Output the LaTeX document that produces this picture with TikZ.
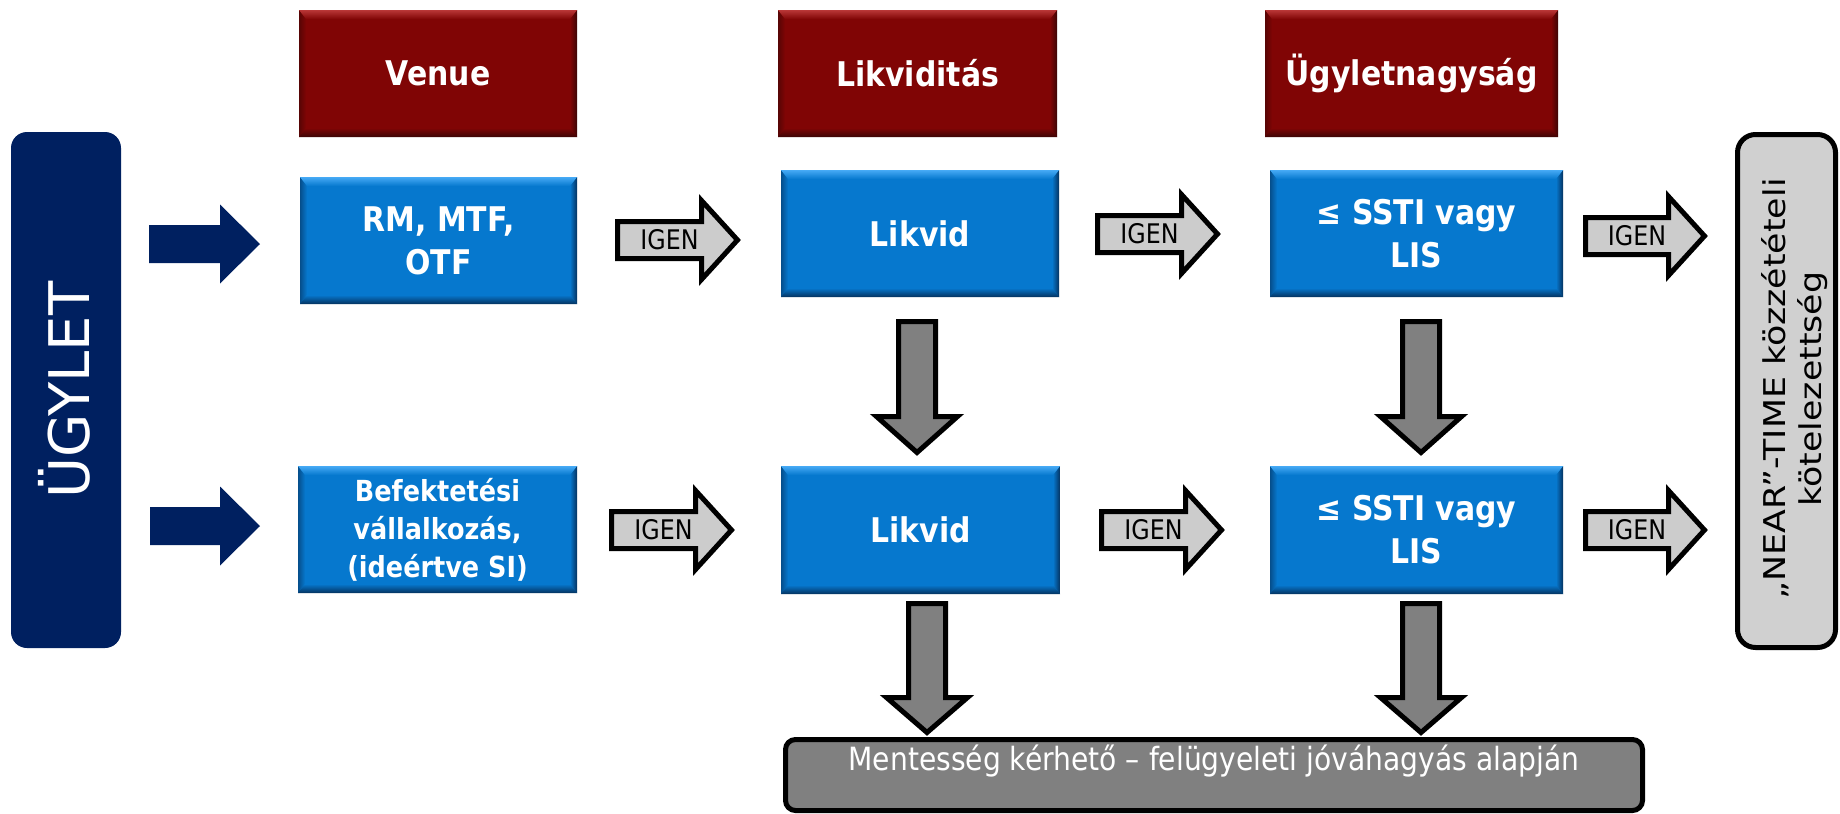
\documentclass[tikz,border=0pt]{standalone}
\usepackage{fontspec}
\setmainfont{DejaVu Sans}[FakeStretch=0.88]
\newfontfamily\widefont{DejaVu Sans}
\newfontfamily\nearfont{DejaVu Sans}[FakeStretch=1.16]
\definecolor{redbase}{RGB}{128,5,5}
\definecolor{redlight}{RGB}{185,55,55}
\definecolor{reddark}{RGB}{60,5,5}
\definecolor{bluebase}{RGB}{6,120,206}
\definecolor{bluelight}{RGB}{70,170,245}
\definecolor{bluedark}{RGB}{5,50,95}
\definecolor{navy}{RGB}{0,32,96}
\definecolor{arrgray}{RGB}{128,128,128}
\definecolor{lgray}{RGB}{208,208,208}
\definecolor{igengray}{RGB}{204,204,204}
% x1 y1 x2 y2 base light dark
\newcommand{\bevelbox}[7]{%
  \fill[#5] (#1,#2) rectangle (#3,#4);
  \shade[left color=#7!60!#5, right color=#5] (#1,#2) -- ({#1+7},{#2+9}) -- ({#1+7},{#4-9}) -- (#1,#4) -- cycle;
  \shade[left color=#5, right color=#7] (#3,#2) -- ({#3-7},{#2+9}) -- ({#3-7},{#4-9}) -- (#3,#4) -- cycle;
  \shade[top color=#6, bottom color=#5] (#1,#2) -- (#3,#2) -- ({#3-7},{#2+9}) -- ({#1+7},{#2+9}) -- cycle;
  \shade[top color=#5, bottom color=#7] (#1,#4) -- (#3,#4) -- ({#3-7},{#4-9}) -- ({#1+7},{#4-9}) -- cycle;
}
% style, tail, tip, cy, shaft half, head half, head len
\newcommand{\myrarrow}[7]{%
  \path[#1] (#2,{#4-#5}) -- ({#3-#7},{#4-#5}) -- ({#3-#7},{#4-#6}) -- (#3,#4) -- ({#3-#7},{#4+#6}) -- ({#3-#7},{#4+#5}) -- (#2,{#4+#5}) -- cycle;}
% style, cx, top, tip, shaft half, head half, head len
\newcommand{\mydarrow}[7]{%
  \path[#1] ({#2-#5},#3) -- ({#2-#5},{#4-#7}) -- ({#2-#6},{#4-#7}) -- (#2,#4) -- ({#2+#6},{#4-#7}) -- ({#2+#5},{#4-#7}) -- ({#2+#5},#3) -- cycle;}
\begin{document}
\begin{tikzpicture}[x=1pt,y=-1pt,
  boxtxt/.style={text=white, font=\bfseries\fontsize{34}{43}\selectfont, align=center, inner sep=0pt},
  smalltxt/.style={text=white, font=\bfseries\fontsize{29}{38}\selectfont, align=center, inner sep=0pt},
  igentxt/.style={text=black, font=\fontsize{27}{32}\selectfont, inner sep=0pt},
  igenarrow/.style={draw=black, line width=5pt, fill=igengray, line join=miter, miter limit=10},
  grayarrow/.style={draw=black, line width=5pt, fill=arrgray, line join=miter, miter limit=10},
  navyarrow/.style={fill=navy}]
\useasboundingbox (0,0) rectangle (1840,814);
\fill[white] (0,0) rectangle (1840,814);

% headers
\bevelbox{299}{10}{577}{137}{redbase}{redlight}{reddark}
\node[boxtxt] (venue) at (438,73.5) {Venue};
\bevelbox{778}{10}{1057}{137}{redbase}{redlight}{reddark}
\node[boxtxt] (likvh) at (917.5,73.5) {Likviditás};
\bevelbox{1265}{10}{1558}{137}{redbase}{redlight}{reddark}
\node[boxtxt] (ugyh) at (1411.5,73.5) {Ügyletnagyság};

% row 1
\bevelbox{300}{177}{577}{304}{bluebase}{bluelight}{bluedark}
\node[boxtxt] (rm) at (438.5,240.5) {RM, MTF,\\OTF};
\bevelbox{781}{170}{1059}{297}{bluebase}{bluelight}{bluedark}
\node[boxtxt] (likv1) at (920,233.5) {Likvid};
\bevelbox{1270}{170}{1563}{297}{bluebase}{bluelight}{bluedark}
\node[boxtxt] (ssti1) at (1416.5,233.5) {≤ SSTI vagy\\LIS};

% row 2
\bevelbox{298}{466}{577}{593}{bluebase}{bluelight}{bluedark}
\node[smalltxt] (bef) at (437.5,529.5) {Befektetési\\vállalkozás,\\(ideértve SI)};
\bevelbox{781}{466}{1060}{594}{bluebase}{bluelight}{bluedark}
\node[boxtxt] (likv2) at (920.5,530) {Likvid};
\bevelbox{1270}{466}{1563}{594}{bluebase}{bluelight}{bluedark}
\node[boxtxt] (ssti2) at (1416.5,530) {≤ SSTI vagy\\LIS};

% left UGYLET
\fill[navy, rounded corners=16pt] (11,132) rectangle (121,648);
\node[text=white, font=\widefont\fontsize{56}{64}\selectfont, rotate=90, anchor=base, inner sep=0pt] (ugylet) at (89,390) {ÜGYLET};

% right NEAR-TIME box
\path[draw=black, line width=5pt, fill=lgray, rounded corners=18pt] (1737.5,134.5) rectangle (1835.5,647.5);
\node[text=black, font=\nearfont\fontsize{30}{36}\selectfont, rotate=90, align=center, inner sep=0pt] (near) at (1795,389) {„NEAR”-TIME közzétételi\\kötelezettség};

% bottom box
\path[draw=black, line width=5pt, fill=arrgray, rounded corners=10pt] (785.5,739.5) rectangle (1642.5,810.5);
\node[text=white, font=\fontsize{32}{38}\selectfont, anchor=base, inner sep=0pt] (ment) at (1214,770) {Mentesség kérhető – felügyeleti jóváhagyás alapján};

% navy arrows
\myrarrow{navyarrow}{149}{260}{244}{19}{39.5}{40}
\myrarrow{navyarrow}{150}{260}{526}{19}{39.5}{40}

% IGEN arrows
\myrarrow{igenarrow}{617.5}{737.5}{240}{18.5}{39.5}{36}
\node[igentxt] (igen1) at (669.5,240) {IGEN};
\myrarrow{igenarrow}{1097.5}{1217.5}{234}{18.5}{39.5}{36}
\node[igentxt] (igen2) at (1149.5,234) {IGEN};
\myrarrow{igenarrow}{1585.5}{1704.5}{236}{18.5}{39.5}{36}
\node[igentxt] (igen3) at (1637,236) {IGEN};
\myrarrow{igenarrow}{611.5}{731.5}{530}{18.5}{39.5}{36}
\node[igentxt] (igen4) at (663.5,530) {IGEN};
\myrarrow{igenarrow}{1101.5}{1221.5}{530}{18.5}{39.5}{36}
\node[igentxt] (igen5) at (1153.5,530) {IGEN};
\myrarrow{igenarrow}{1585.5}{1704.5}{530}{18.5}{39.5}{36}
\node[igentxt] (igen6) at (1637,530) {IGEN};

% gray down arrows
\mydarrow{grayarrow}{917}{321.5}{452.5}{18.5}{40.5}{36}
\mydarrow{grayarrow}{1421}{321.5}{452.5}{18.5}{40.5}{36}
\mydarrow{grayarrow}{927}{603.5}{732.5}{18.5}{40.5}{35}
\mydarrow{grayarrow}{1421}{603.5}{732.5}{18.5}{40.5}{35}
\end{tikzpicture}
\end{document}
